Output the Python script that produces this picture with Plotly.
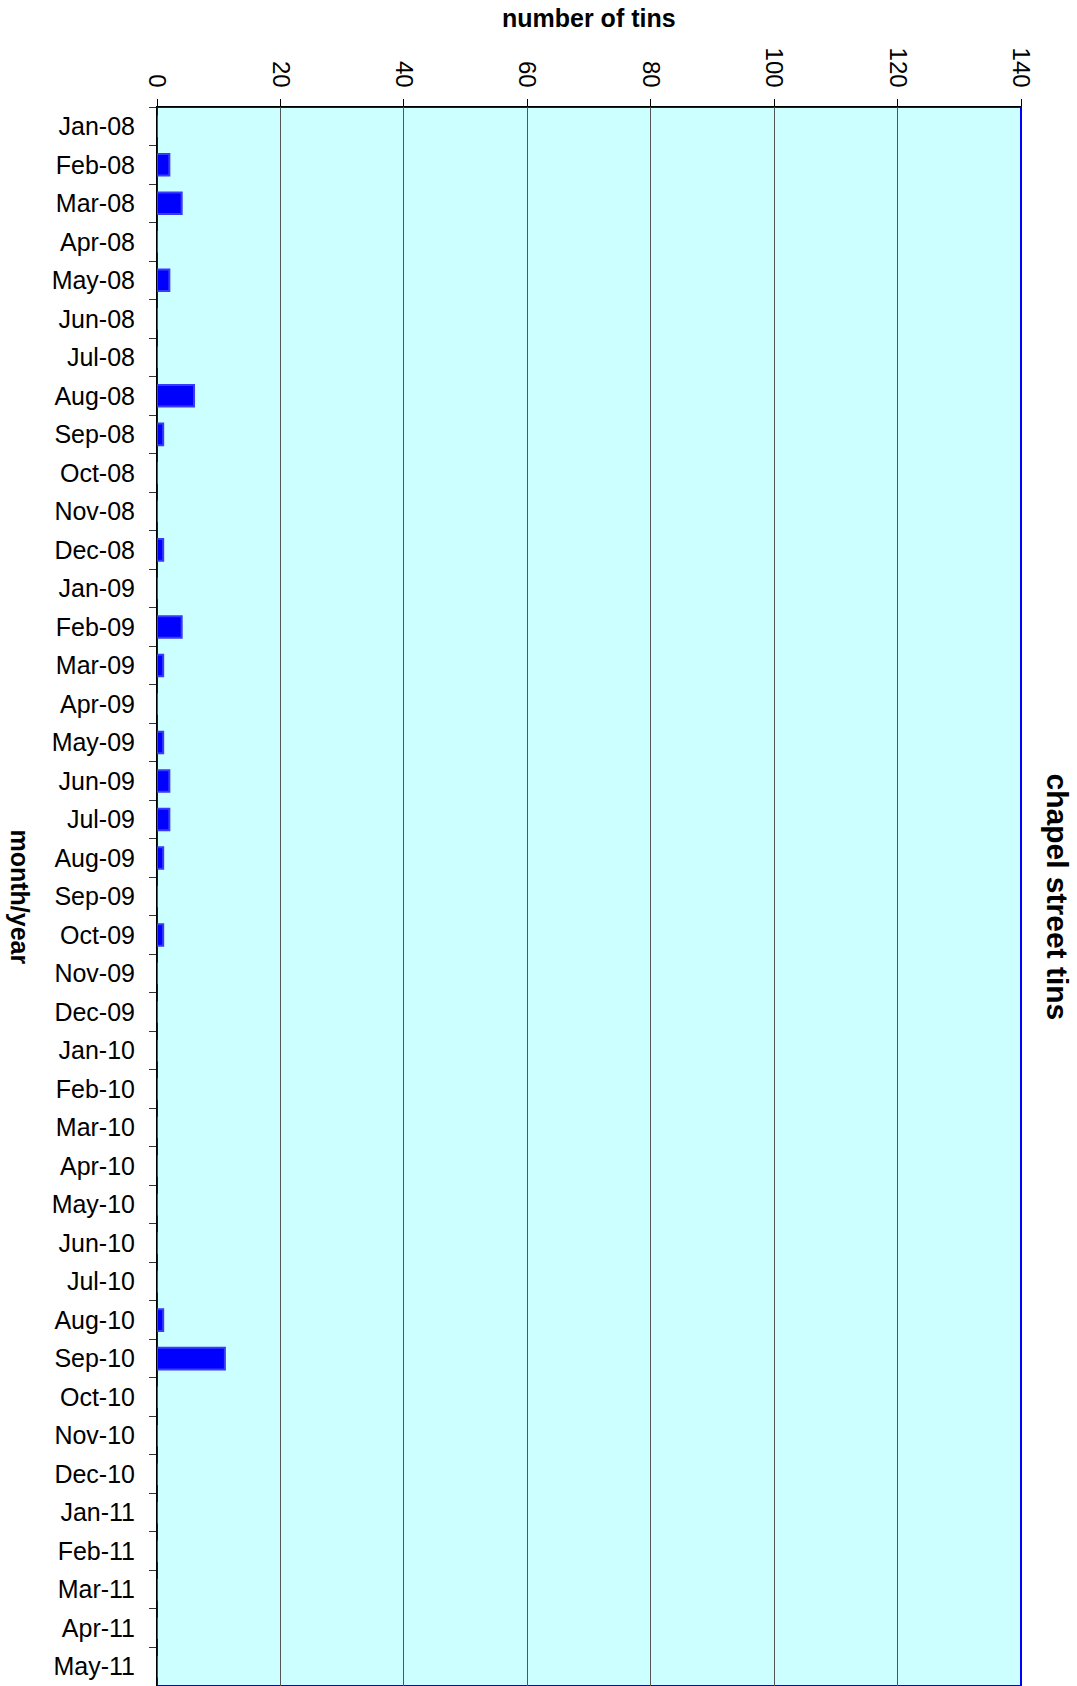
import plotly.graph_objects as go

months = [
    "Jan-08", "Feb-08", "Mar-08", "Apr-08", "May-08", "Jun-08", "Jul-08", "Aug-08",
    "Sep-08", "Oct-08", "Nov-08", "Dec-08",
    "Jan-09", "Feb-09", "Mar-09", "Apr-09", "May-09", "Jun-09", "Jul-09", "Aug-09",
    "Sep-09", "Oct-09", "Nov-09", "Dec-09",
    "Jan-10", "Feb-10", "Mar-10", "Apr-10", "May-10", "Jun-10", "Jul-10", "Aug-10",
    "Sep-10", "Oct-10", "Nov-10", "Dec-10",
    "Jan-11", "Feb-11", "Mar-11", "Apr-11", "May-11",
]
tins = [
    0, 2, 4, 0, 2, 0, 0, 6, 1, 0, 0, 1,
    0, 4, 1, 0, 1, 2, 2, 1, 0, 1, 0, 0,
    0, 0, 0, 0, 0, 0, 0, 1, 11, 0, 0, 0,
    0, 0, 0, 0, 0,
]
x_ticks = [0, 20, 40, 60, 80, 100, 120, 140]

FONT = "Liberation Sans, Arial, sans-serif"

fig = go.Figure(
    go.Bar(
        x=tins,
        y=months,
        orientation="h",
        marker=dict(color="#0000FF", line=dict(color="#3A3AFF", width=2)),
        hoverinfo="x+y",
    )
)

fig.update_layout(
    width=1077,
    height=1686,
    margin=dict(l=157, r=56, t=107, b=0),
    paper_bgcolor="white",
    plot_bgcolor="#CCFFFF",
    bargap=0.44,
    showlegend=False,
    font=dict(family=FONT, size=24, color="black"),
    xaxis=dict(
        side="top",
        range=[0, 140],
        tickvals=x_ticks,
        ticktext=[str(v) for v in x_ticks],
        tickangle=90,
        ticks="outside",
        ticklen=7,
        tickcolor="black",
        ticklabelstandoff=3,
        showgrid=True,
        gridcolor="#555555",
        gridwidth=1,
        zeroline=False,
        showline=True,
        linecolor="black",
        linewidth=1,
        tickfont=dict(size=24),
    ),
    yaxis=dict(
        categoryorder="array",
        categoryarray=months,
        autorange="reversed",
        tickson="boundaries",
        ticks="outside",
        ticklen=7,
        tickcolor="#333333",
        ticklabelstandoff=16,
        showgrid=False,
        zeroline=False,
        showline=True,
        linecolor="black",
        linewidth=1,
        tickfont=dict(size=25),
    ),
    shapes=[
        dict(
            type="rect", xref="paper", yref="paper",
            x0=0, x1=1, y0=0, y1=1,
            line=dict(color="#0000FF", width=2),
            layer="below",
        )
    ],
    annotations=[
        dict(
            text="<b>number of tins</b>", xref="paper", yref="paper",
            x=0.5, y=1, xanchor="center", yanchor="middle", yshift=89,
            showarrow=False, font=dict(size=25),
        ),
        dict(
            text="<b>month/year</b>", xref="paper", yref="paper",
            x=0, y=0.5, xanchor="center", yanchor="middle", xshift=-137,
            textangle=90, showarrow=False, font=dict(size=25),
        ),
        dict(
            text="<b>chapel street tins</b>", xref="paper", yref="paper",
            x=1, y=0.5, xanchor="center", yanchor="middle", xshift=36,
            textangle=90, showarrow=False, font=dict(size=30),
        ),
    ],
)

fig.write_html("out.html")
